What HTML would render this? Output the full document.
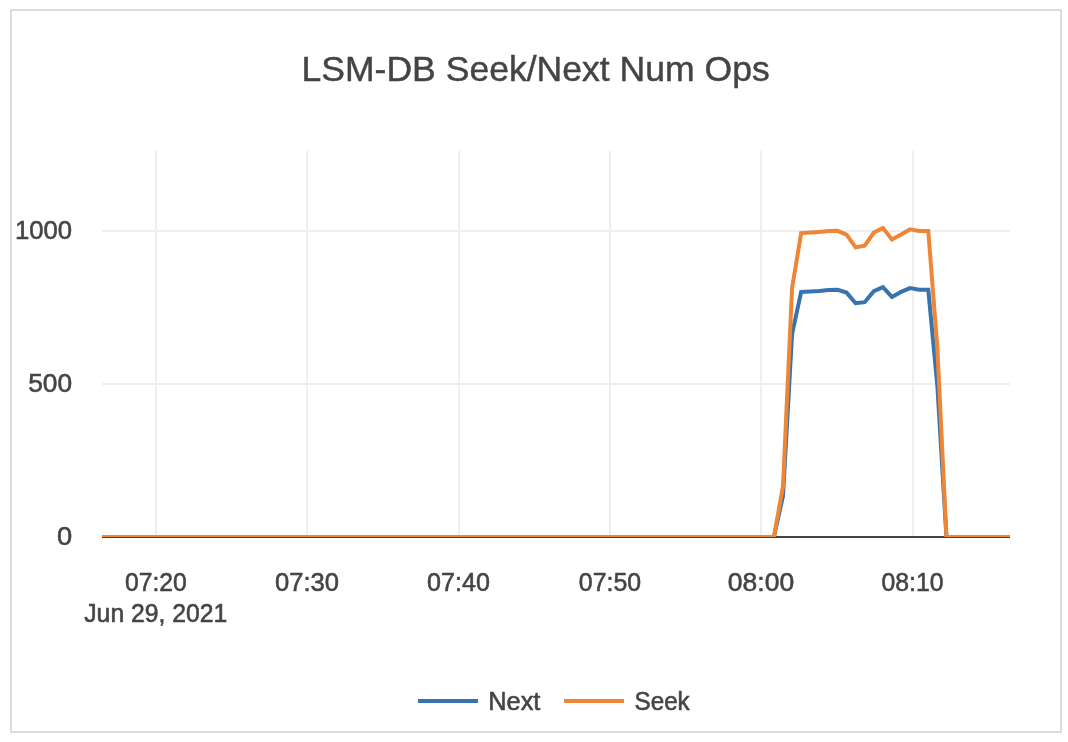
<!DOCTYPE html>
<html lang="en">
<head>
<meta charset="utf-8">
<title>LSM-DB Seek/Next Num Ops</title>
<style>
html,body{margin:0;padding:0;background:#ffffff;}
body{width:1068px;height:742px;overflow:hidden;position:relative;}
.frame{position:absolute;left:10px;top:9px;width:1048px;height:720px;border:2px solid #dcdcde;}
svg{position:absolute;left:0;top:0;display:block;will-change:transform;}
text{font-family:"Liberation Sans",sans-serif;fill:#444444;stroke:#444444;stroke-width:0.55px;stroke-linejoin:round;}
#title{stroke-width:0.45px;}
</style>
</head>
<body>
<div class="frame"></div>
<svg width="1068" height="742" viewBox="0 0 1068 742">
  <defs><clipPath id="plotclip"><rect x="102" y="151" width="908" height="386"/></clipPath></defs>
  <g fill="#eeeeee" shape-rendering="crispEdges">
    <rect x="155" y="151" width="2" height="386"/>
    <rect x="306" y="151" width="2" height="386"/>
    <rect x="458" y="151" width="2" height="386"/>
    <rect x="609" y="151" width="2" height="386"/>
    <rect x="760" y="151" width="2" height="386"/>
    <rect x="912" y="151" width="2" height="386"/>
    <rect x="102" y="230" width="908" height="2"/>
    <rect x="102" y="383" width="908" height="2"/>
  </g>
  <rect x="102" y="536" width="908" height="2" fill="#444444" shape-rendering="crispEdges"/>
  <g clip-path="url(#plotclip)" fill="none" stroke-width="4" stroke-linejoin="miter" stroke-miterlimit="2">
    <path d="M102,537 L773.92,537 L783.0,496 L792.08,334 L801.16,291.9 L810.24,291.5 L819.32,290.9 L828.4,290.0 L837.48,289.8 L846.56,292.6 L855.64,303.2 L864.72,302.2 L873.8,291.2 L882.88,287.2 L891.96,296.9 L901.04,291.9 L910.12,288.1 L919.2,289.8 L928.28,289.8 L937.36,386 L946.44,537 L1010,537" stroke="#3773af"/>
    <path d="M102,537 L773.92,537 L783.0,486.2 L792.08,288 L801.16,233.1 L810.24,232.6 L819.32,231.9 L828.4,231.1 L837.48,230.8 L846.56,234.7 L855.64,247.3 L864.72,245.6 L873.8,232.5 L882.88,228.1 L891.96,239.4 L901.04,234.4 L910.12,229.3 L919.2,230.9 L928.28,230.9 L937.36,348 L946.44,537 L1010,537" stroke="#ef8636"/>
  </g>
  <text id="title" x="301.45" y="81" font-size="35" textLength="468.34" lengthAdjust="spacingAndGlyphs">LSM-DB Seek/Next Num Ops</text>
  <text id="y1000" x="14.94" y="239" font-size="25" textLength="57.17" lengthAdjust="spacingAndGlyphs">1000</text>
  <text id="y500" x="28.23" y="392" font-size="25" textLength="43.92" lengthAdjust="spacingAndGlyphs">500</text>
  <text id="y0" x="56.92" y="545" font-size="25" textLength="15.18" lengthAdjust="spacingAndGlyphs">0</text>
  <text id="x0720" x="125.00" y="591" font-size="25" textLength="61.85" lengthAdjust="spacingAndGlyphs">07:20</text>
  <text id="date" x="84.25" y="622" font-size="25" textLength="143.10" lengthAdjust="spacingAndGlyphs">Jun 29, 2021</text>
  <text id="x0730" x="274.94" y="591" font-size="25" textLength="64.04" lengthAdjust="spacingAndGlyphs">07:30</text>
  <text id="x0740" x="426.99" y="591" font-size="25" textLength="62.91" lengthAdjust="spacingAndGlyphs">07:40</text>
  <text id="x0750" x="578.80" y="591" font-size="25" textLength="62.34" lengthAdjust="spacingAndGlyphs">07:50</text>
  <text id="x0800" x="727.85" y="591" font-size="25" textLength="66.30" lengthAdjust="spacingAndGlyphs">08:00</text>
  <text id="x0810" x="881.41" y="591" font-size="25" textLength="62.09" lengthAdjust="spacingAndGlyphs">08:10</text>
  <text id="next" x="488.22" y="710" font-size="25" textLength="52.16" lengthAdjust="spacingAndGlyphs">Next</text>
  <text id="seek" x="634.52" y="710" font-size="25" textLength="55.22" lengthAdjust="spacingAndGlyphs">Seek</text>
  <rect x="418" y="699" width="60" height="4" fill="#3773af"/>
  <rect x="564" y="699" width="60" height="4" fill="#ef8636"/>
</svg>
</body>
</html>
